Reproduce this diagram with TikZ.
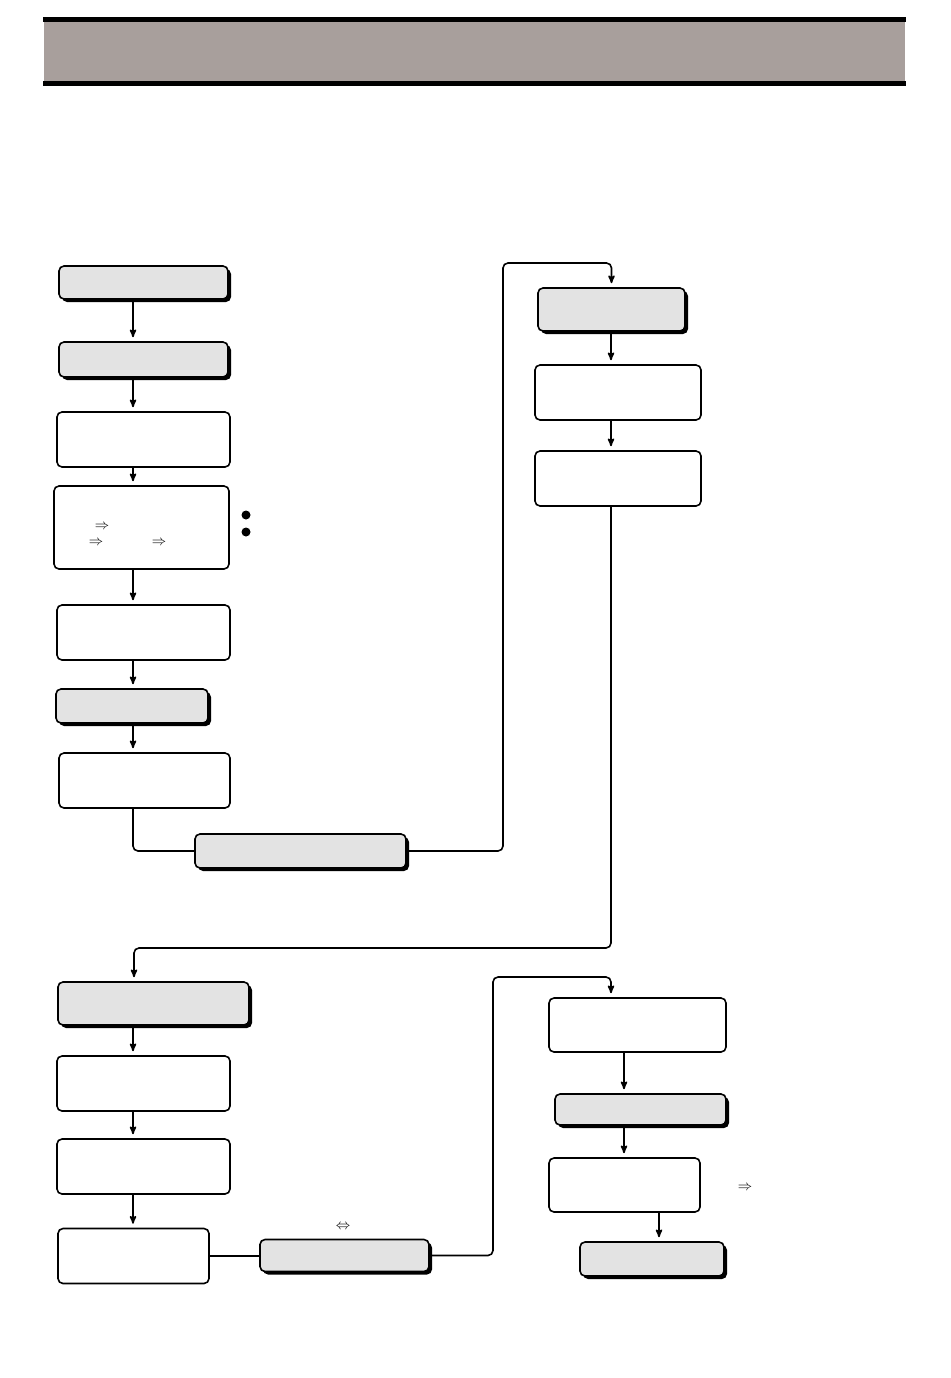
\documentclass[tikz,border=0pt]{standalone}
\usepackage{amsmath}
\usepackage{amssymb}
\usetikzlibrary{arrows,shadows}

\definecolor{headgrey}{HTML}{A89F9C}
\definecolor{boxgrey}{HTML}{E3E3E3}

\begin{document}
\begin{tikzpicture}
	[x=1pt,y=-1pt,->,>=stealth',shorten >=4pt,line width=1.6pt,
		box/.style={draw,rounded corners=5pt,line width=1.6pt,inner sep=0pt},
		plain node/.style={box,fill=white},
		grey node/.style={box,fill=boxgrey,drop shadow={shadow xshift=3pt,shadow yshift=-3pt,fill=black,opacity=1}},
		link/.style={-,shorten >=0pt,rounded corners=5pt},
		sym/.style={inner sep=0pt,font=\Large},
		dot/.style={circle,fill=black,inner sep=0pt,minimum size=9pt}]

	\useasboundingbox (0,0) rectangle (950,1378);

	% header band
	\fill[black] (43,17) rectangle (906,22);
	\fill[headgrey] (44,22) rectangle (905,81);
	\fill[black] (43,81) rectangle (906,86);

	% columns of the arrows
	\coordinate (colL) at (133,0);
	\coordinate (colR) at (611,0);
	\coordinate (colS) at (624,0);
	\coordinate (colT) at (659,0);

	% first column
	\node[grey node,minimum width=169pt,minimum height=33pt]  (A) at (143.5,282.5) {};
	\node[grey node,minimum width=169pt,minimum height=35pt]  (B) at (143.5,359.5) {};
	\node[plain node,minimum width=173pt,minimum height=55pt] (C) at (143.5,439.5) {};
	\node[plain node,minimum width=175pt,minimum height=83pt] (D) at (141.5,527.5) {};
	\node[plain node,minimum width=173pt,minimum height=55pt] (E) at (143.5,632.5) {};
	\node[grey node,minimum width=152pt,minimum height=34pt]  (F) at (132,706) {};
	\node[plain node,minimum width=171pt,minimum height=55pt] (G) at (144.5,780.5) {};
	\node[grey node,minimum width=211pt,minimum height=34pt]  (H) at (300.5,851) {};

	\node[sym] (r1) at (102,527) {$\Rightarrow$};
	\node[sym] (r2) at (96,543)  {$\Rightarrow$};
	\node[sym] (r3) at (159,543) {$\Rightarrow$};
	\node[dot] (d1) at (246,515) {};
	\node[dot] (d2) at (246,532) {};

	% second column
	\node[grey node,minimum width=147pt,minimum height=43pt]  (I) at (611.5,309.5) {};
	\node[plain node,minimum width=166pt,minimum height=55pt] (J) at (618,392.5) {};
	\node[plain node,minimum width=166pt,minimum height=55pt] (K) at (618,478.5) {};

	% third column
	\node[grey node,minimum width=191pt,minimum height=43pt]  (L) at (153.5,1003.5) {};
	\node[plain node,minimum width=173pt,minimum height=55pt] (M) at (143.5,1083.5) {};
	\node[plain node,minimum width=173pt,minimum height=55pt] (N) at (143.5,1166.5) {};
	\node[plain node,minimum width=151pt,minimum height=55pt] (O) at (133.5,1256) {};
	\node[grey node,minimum width=169pt,minimum height=32pt]  (P) at (344.5,1255.5) {};
	\node[sym] (lr) at (343,1227) {$\Leftrightarrow$};

	% fourth column
	\node[plain node,minimum width=177pt,minimum height=54pt] (Q) at (637.5,1025) {};
	\node[grey node,minimum width=171pt,minimum height=31pt]  (R) at (640.5,1109.5) {};
	\node[plain node,minimum width=151pt,minimum height=54pt] (S) at (624.5,1185) {};
	\node[grey node,minimum width=144pt,minimum height=34pt]  (T) at (652,1259) {};
	\node[sym] (r4) at (745,1188) {$\Rightarrow$};

	% turning points
	\coordinate (upA) at (503,263);
	\coordinate (dnA) at (134,948);
	\coordinate (upB) at (493,977);

	\path
	(A.south -| colL) edge (B.north -| colL)
	(B.south -| colL) edge (C.north -| colL)
	(C.south -| colL) edge (D.north -| colL)
	(D.south -| colL) edge (E.north -| colL)
	(E.south -| colL) edge (F.north -| colL)
	(F.south -| colL) edge (G.north -| colL)

	(I.south -| colR) edge (J.north -| colR)
	(J.south -| colR) edge (K.north -| colR)

	(L.south -| colL) edge (M.north -| colL)
	(M.south -| colL) edge (N.north -| colL)
	(N.south -| colL) edge (O.north -| colL)

	(Q.south -| colS) edge (R.north -| colS)
	(R.south -| colS) edge (S.north -| colS)
	(S.south -| colT) edge (T.north -| colT)
	;

	\draw[link] (G.south -| colL) |- (H.west);
	\draw[rounded corners=5pt] (H.east) -| (upA) -| (I.north);
	\draw[rounded corners=5pt] (K.south -| colR) |- (dnA) -- (L.north -| dnA);
	\draw[link] (O.east) -- (P.west |- O.east);
	\draw[rounded corners=5pt] (P.east) -| (upB) -| (Q.north -| colR);

\end{tikzpicture}
\end{document}
